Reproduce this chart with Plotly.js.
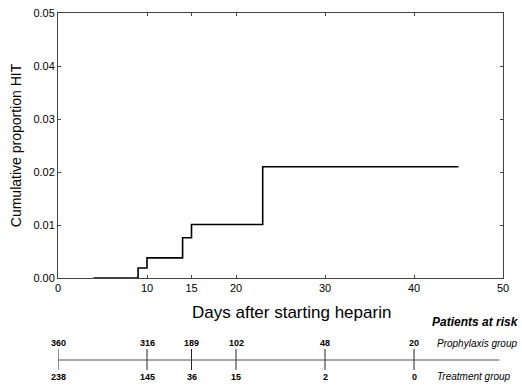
<!DOCTYPE html>
<html><head><meta charset="utf-8">
<script src="https://cdn.plot.ly/plotly-3.0.1.min.js"></script>
<style>html,body{margin:0;padding:0;background:#fff}</style>
</head><body><div id="chart" style="width:522px;height:385px"></div>
<script>
// Kaplan-Meier style step curve
const stepDays = [4, 9, 10, 14, 15, 23, 45];
const stepValues = [0, 0.0019, 0.0038, 0.0076, 0.0101, 0.021, 0.021];
const xTicks = [0, 10, 15, 20, 30, 40, 50];
const yTicks = [0, 0.01, 0.02, 0.03, 0.04, 0.05];
const riskDays = [0, 10, 15, 20, 30, 40];
const prophylaxisAtRisk = [360, 316, 189, 102, 48, 20];
const treatmentAtRisk = [238, 145, 36, 15, 2, 0];

const FONT = 'Liberation Sans, Arial, sans-serif';
const H = 265; // plot height in px
const py = px => -(px) / H; // px below plot bottom -> paper y

const annotations = [];
const shapes = [];
riskDays.forEach((d, i) => {
  annotations.push({x: d, xref: 'x', y: py(65), yref: 'paper', text: '<b>' + prophylaxisAtRisk[i] + '</b>',
    showarrow: false, font: {family: FONT, size: 9, color: '#000'}, xanchor: 'center', yanchor: 'middle'});
  annotations.push({x: d, xref: 'x', y: py(99), yref: 'paper', text: '<b>' + treatmentAtRisk[i] + '</b>',
    showarrow: false, font: {family: FONT, size: 9, color: '#000'}, xanchor: 'center', yanchor: 'middle'});
  shapes.push({type: 'line', xref: 'x', yref: 'paper', x0: d, x1: d, y0: py(71), y1: py(92),
    line: {color: '#222', width: 1}});
});
shapes.push({type: 'line', xref: 'x', yref: 'paper', x0: -2, x1: 49.6, y0: py(82), y1: py(82),
  line: {color: '#555', width: 1}});
annotations.push({x: 1.04, xref: 'paper', y: py(44), yref: 'paper', text: '<b><i>Patients at risk</i></b>',
  showarrow: false, font: {family: FONT, size: 12, color: '#000'}, xanchor: 'right', yanchor: 'middle'});
annotations.push({x: 0.848, xref: 'paper', y: py(65), yref: 'paper', text: '<i>Prophylaxis group</i>',
  showarrow: false, font: {family: FONT, size: 10, color: '#000'}, xanchor: 'left', yanchor: 'middle'});
annotations.push({x: 0.848, xref: 'paper', y: py(98), yref: 'paper', text: '<i>Treatment group</i>',
  showarrow: false, font: {family: FONT, size: 10, color: '#000'}, xanchor: 'left', yanchor: 'middle'});
annotations.push({x: 0.524, xref: 'paper', y: py(34), yref: 'paper', text: 'Days after starting heparin',
  showarrow: false, font: {family: FONT, size: 17, color: '#000'}, xanchor: 'center', yanchor: 'middle'});

const trace = {
  x: stepDays, y: stepValues, type: 'scatter', mode: 'lines',
  line: {shape: 'hv', color: '#000', width: 1.6}, hoverinfo: 'skip', cliponaxis: false
};

const layout = {
  width: 522, height: 385,
  margin: {l: 58, r: 19, t: 13, b: 107},
  paper_bgcolor: '#fff', plot_bgcolor: '#fff',
  showlegend: false,
  font: {family: FONT, color: '#000'},
  xaxis: {range: [0, 50], tickvals: xTicks, ticktext: xTicks.map(String),
    showgrid: false, zeroline: false, showline: true, linecolor: '#444', linewidth: 1, mirror: 'ticks',
    ticks: 'inside', ticklen: 3, tickcolor: '#444', tickfont: {size: 11, family: FONT}},
  yaxis: {range: [0, 0.05], tickvals: yTicks, tickformat: '.2f',
    showgrid: false, zeroline: false, showline: true, linecolor: '#444', linewidth: 1, mirror: 'ticks',
    ticks: 'inside', ticklen: 3, tickcolor: '#444', tickfont: {size: 11, family: FONT},
    title: {text: 'Cumulative proportion HIT', font: {size: 14, family: FONT}, standoff: 8}},
  annotations: annotations,
  shapes: shapes
};
Plotly.newPlot('chart', [trace], layout, {displayModeBar: false, staticPlot: true});
</script></body></html>
